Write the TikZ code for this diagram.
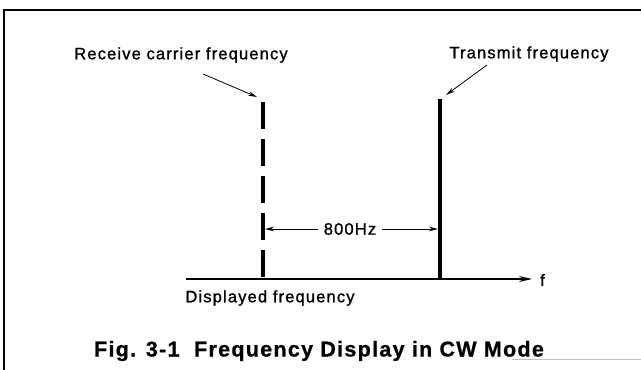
\documentclass[tikz,border=0pt]{standalone}
\usepackage{fontspec}
\setmainfont{Liberation Sans}
\newfontfamily\lblfont[LetterSpace=7,FakeBold=1.2]{Liberation Sans}
\newfontfamily\capfont[LetterSpace=6,FakeBold=0.8]{Liberation Sans Bold}
\usetikzlibrary{arrows.meta}
\begin{document}
\begin{tikzpicture}[x=1pt,y=-1pt,
  lbl/.style={font=\lblfont\fontsize{16.5}{18}\selectfont, inner sep=0pt},
  pointer/.style={line width=0.8pt, -{Stealth[length=9pt,width=4.5pt]}}]
\useasboundingbox (0,0) rectangle (641,370);
\draw[line width=1.2pt] (4,370) -- (4,10) -- (641,10);
\draw[gray!50, line width=1pt] (512,359) -- (641,359);
% axis
\coordinate (ax0) at (186,279);
\coordinate (ax1) at (532,279);
\draw[line width=1.8pt, -{Stealth[length=13pt,width=6pt]}] (ax0) -- (ax1);
\node[lbl, anchor=west] (f) at (540,280) {f};
\node[lbl] (disp) at (270,298) {Displayed frequency};
% the two carriers
\coordinate (rxtop) at (263,102);
\coordinate (rxbot) at (263,279);
\coordinate (txtop) at (440,99);
\coordinate (txbot) at (440,279);
\draw[line width=3.5pt, dash pattern=on 27pt off 10pt] (rxtop) -- (rxbot);
\draw[line width=3.5pt] (txtop) -- (txbot);
% labels and pointers
\node[lbl] (rx) at (181,55) {Receive carrier frequency};
\node[lbl] (tx) at (529,54) {Transmit frequency};
\coordinate (rxfrom) at (203,74);
\coordinate (rxto) at (257,97);
\coordinate (txfrom) at (487,65);
\coordinate (txto) at (446,95);
\draw[pointer] (rxfrom) -- (rxto);
\draw[pointer] (txfrom) -- (txto);
% spacing
\node[lbl, inner xsep=6pt] (gap) at (350,229) {800Hz};
\coordinate (gapl) at (265,229);
\coordinate (gapr) at (438,229);
\draw[pointer] (gap.west) -- (gapl);
\draw[pointer] (gap.east) -- (gapr);
\node[font=\capfont\fontsize{21.5}{24}\selectfont] (cap) at (319,351) {Fig. 3-1\ \ Frequency Display in CW Mode};
\end{tikzpicture}
\end{document}
